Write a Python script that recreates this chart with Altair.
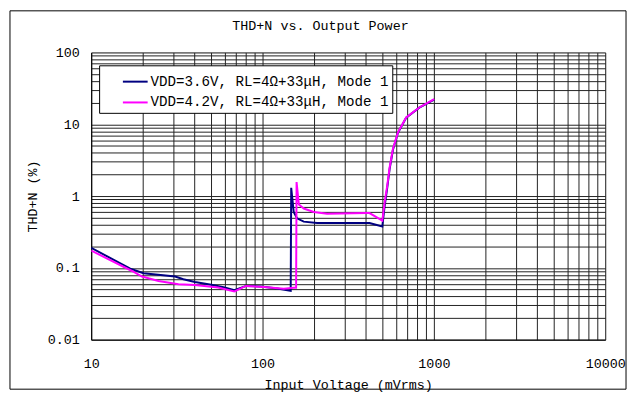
import altair as alt
import pandas as pd

# ---- data ----
series_names = ["VDD=3.6V, RL=4Ω+33μH, Mode 1", "VDD=4.2V, RL=4Ω+33μH, Mode 1"]
series_colors = ["#000080", "#FF00FF"]

x_36 = [10, 16.9, 20.2, 30.9, 34.5, 40.3, 50.2, 60.1, 68.5, 80.2, 97.8, 122, 146,
        147, 152, 159, 174, 208, 272, 421, 500, 515, 533, 552, 577, 617, 689, 822, 1004]
y_36 = [0.19, 0.0975, 0.084, 0.0757, 0.0694, 0.0637, 0.058, 0.0533, 0.049, 0.056, 0.055, 0.0516, 0.0478,
        1.30, 0.60, 0.49, 0.44, 0.42, 0.42, 0.42, 0.376, 0.70, 1.25, 2.4, 4.4, 7.6, 12.3, 17.0, 22.0]

x_42 = [10, 17.3, 19.8, 24.7, 32.3, 40.3, 55, 68.5, 80, 102, 133, 152, 157,
        158, 163, 174, 199, 238, 404, 421, 500, 518, 533, 552, 577, 617, 689, 822, 1004]
y_42 = [0.174, 0.0904, 0.0757, 0.0657, 0.059, 0.0576, 0.0533, 0.047, 0.056, 0.054, 0.051, 0.053, 0.053,
        1.57, 0.76, 0.67, 0.60, 0.565, 0.58, 0.58, 0.455, 0.88, 1.34, 2.53, 4.55, 7.7, 12.4, 17.1, 22.3]

x_decades = [10, 100, 1000, 10000]
y_decades = [0.01, 0.1, 1, 10, 100]

chart_title = "THD+N vs. Output Power"
x_title = "Input Voltage (mVrms)"
y_title = "THD+N (%)"

FONT = "Liberation Mono, DejaVu Sans Mono, monospace"

rows = []
for name, xs, ys in [(series_names[0], x_36, y_36), (series_names[1], x_42, y_42)]:
    for i, (xv, yv) in enumerate(zip(xs, ys)):
        rows.append({"series": name, "x": xv, "y": yv, "order": i})
df = pd.DataFrame(rows)


def log_ticks(decades):
    vals = []
    for d in decades[:-1]:
        for m in range(1, 10):
            vals.append(round(m * d, 6))
    vals.append(decades[-1])
    return vals


x_ticks = log_ticks(x_decades)
y_ticks = log_ticks(y_decades)

label_expr = ("abs(log(datum.value)/LN10 - round(log(datum.value)/LN10)) < 0.001 "
              "? format(datum.value, '~g') : ''")

lines = alt.Chart(df).mark_line(strokeWidth=2, clip=True).encode(
    x=alt.X("x:Q",
            scale=alt.Scale(type="log", domain=[x_decades[0], x_decades[-1]], nice=False),
            axis=alt.Axis(values=x_ticks, labelExpr=label_expr, title=x_title,
                          ticks=False, grid=True, gridColor="#222222", gridWidth=1,
                          domainColor="black", labelFont=FONT, labelFontSize=13.5,
                          labelColor="black", labelPadding=17, labelFlush=False,
                          labelOverlap=False, titleFont=FONT, titleFontSize=13.5,
                          titleFontWeight="normal", titleColor="black",
                          titleY=45.5, titleBaseline="middle")),
    y=alt.Y("y:Q",
            scale=alt.Scale(type="log", domain=[y_decades[0], y_decades[-1]], nice=False),
            axis=alt.Axis(values=y_ticks, labelExpr=label_expr, title=y_title,
                          ticks=False, grid=True, gridColor="#222222", gridWidth=1,
                          domainColor="black", labelFont=FONT, labelFontSize=13.5,
                          labelColor="black", labelPadding=12, labelOverlap=False,
                          titleFont=FONT, titleFontSize=13.5, titleFontWeight="normal",
                          titleColor="black", titleAngle=270, titleX=-59, titleY=145,
                          titleAlign="center", titleBaseline="middle")),
    color=alt.Color("series:N",
                    scale=alt.Scale(domain=series_names, range=series_colors),
                    legend=alt.Legend(orient="none", legendX=8, legendY=13,
                                      title="\u2003\u2003",
                                      titleOrient="right", titlePadding=0,
                                      titleFontSize=14, titleFont=FONT,
                                      fillColor="white", strokeColor="black", padding=3,
                                      symbolType="stroke", symbolSize=625,
                                      symbolStrokeWidth=2, symbolOffset=20,
                                      labelFont=FONT, labelFontSize=14.3, labelColor="black",
                                      labelOffset=2, rowPadding=0, labelLimit=400)),
    order="order:Q",
)

frame = alt.Chart(alt.Data(values=[{"f": 1}])).mark_rect(
    fill="transparent", stroke="black", strokeWidth=1, clip=False
).encode(x=alt.value(-82), x2=alt.value(540), y=alt.value(-42), y2=alt.value(340))

chart = alt.layer(frame, lines).properties(
    width=519, height=290,
    title=alt.TitleParams(chart_title, font=FONT, fontSize=13.5, fontWeight="normal",
                          color="black", anchor="middle", offset=-22, dx=-28),
    padding={"left": 84, "top": 43, "right": 23, "bottom": 52},
    autosize=alt.AutoSizeParams(type="none"),
).configure_view(stroke="black", strokeWidth=1).configure(background="white")

chart.save("out.html", embed_options={"renderer": "svg", "actions": False})
